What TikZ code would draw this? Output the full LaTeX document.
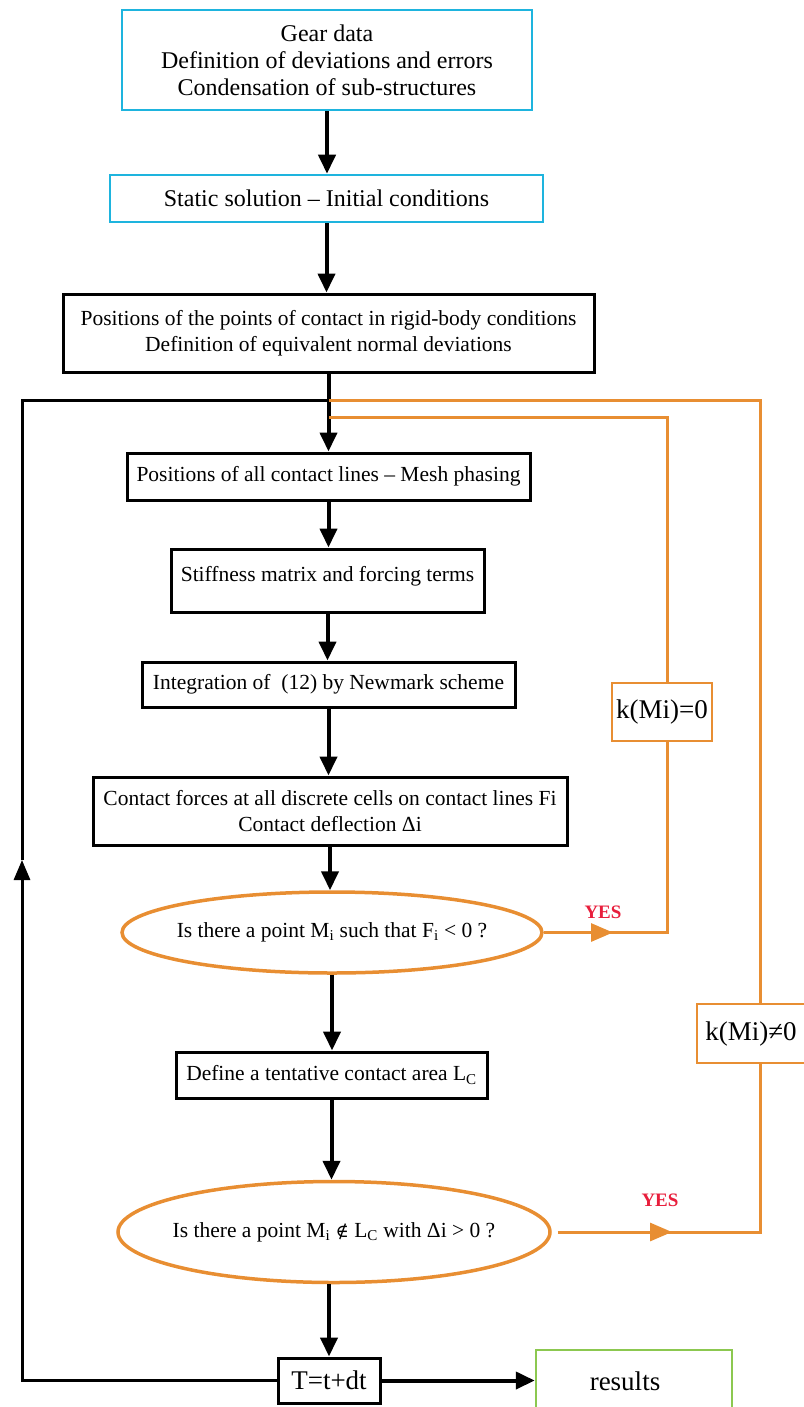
\documentclass[tikz,border=0pt]{standalone}
\usepackage{fontspec}
\setmainfont{Liberation Serif}
\newfontfamily\symserif{DejaVu Serif}
\usetikzlibrary{arrows.meta,shapes.geometric}
\definecolor{boxcyan}{RGB}{30,180,222}
\definecolor{flowor}{RGB}{232,142,50}
\definecolor{resgreen}{RGB}{140,200,80}
\definecolor{yesred}{RGB}{232,30,60}
\begin{document}
\begin{tikzpicture}[x=1pt,y=-1pt,
 cbox/.style={draw=boxcyan,line width=2.5pt,inner sep=0pt,align=center,fill=white},
 bbox/.style={draw=black,line width=3pt,inner sep=0pt,align=center,fill=white},
 obox/.style={draw=flowor,line width=2.5pt,inner sep=0pt,fill=white},
 gbox/.style={draw=resgreen,line width=2.5pt,inner sep=0pt},
 oell/.style={ellipse,draw=flowor,line width=3.5pt,inner sep=0pt},
 flow/.style={line width=4pt,-{Triangle[length=19pt,width=17pt]}},
 loopline/.style={line width=3pt},
 oline/.style={draw=flowor,line width=3pt},
 oarrow/.style={oline,-{Triangle[length=22pt,width=18pt]}},
 yes/.style={text=yesred,inner sep=0pt,font=\fontsize{19}{22}\selectfont\bfseries},
 big/.style={font=\fontsize{24}{27}\selectfont},
 mid/.style={font=\fontsize{21.5}{26}\selectfont},
 kfont/.style={font=\fontsize{27}{30}\selectfont},
]
\useasboundingbox (0,0) rectangle (803,1407);

% main boxes
\node[cbox,big,minimum width=410pt,minimum height=100pt] (gear) at (327,60)
  {Gear data\\Definition of deviations and errors\\Condensation of sub-structures};
\node[cbox,big,minimum width=433pt,minimum height=47pt] (static) at (326.5,198.5)
  {Static solution -- Initial conditions};
\node[bbox,mid,minimum width=531pt,minimum height=78pt] (rigid) at (328.5,333)
  {Positions of the points of contact in rigid-body conditions\\Definition of equivalent normal deviations};
\node[bbox,mid,minimum width=403pt,minimum height=47pt] (mesh) at (328.5,476.5)
  {Positions of all contact lines -- Mesh phasing};
\node[bbox,mid,minimum width=313pt,minimum height=63pt] (stiff) at (327.5,580.5)
  {\raisebox{14pt}{Stiffness matrix and forcing terms}};
\node[bbox,mid,minimum width=373pt,minimum height=45pt] (integ) at (328.5,684.5)
  {Integration of\ \ (12) by Newmark scheme};
\node[bbox,mid,minimum width=474pt,minimum height=68pt] (contact) at (330,811)
  {Contact forces at all discrete cells on contact lines Fi\\Contact deflection Δi};
\node[oell,mid,minimum width=420pt,minimum height=81pt] (ell1) at (332,932.5)
  {\makebox[0pt]{Is there a point M\textsubscript{i} such that F\textsubscript{i} < 0 ?}};
\node[bbox,mid,minimum width=311pt,minimum height=46pt] (tent) at (331.5,1075)
  {Define a tentative contact area L\textsubscript{C}};
\node[oell,mid,minimum width=432pt,minimum height=101pt] (ell2) at (334,1232)
  {\makebox[0pt]{Is there a point M\textsubscript{i} {\symserif\fontsize{18}{20}\selectfont ∉} L\textsubscript{C} with Δi > 0 ?}};
\node[bbox,kfont,minimum width=102pt,minimum height=45pt] (T) at (329,1380.5) {T=t+dt};
\node[gbox,kfont,minimum width=196pt,minimum height=62pt] (res) at (634,1381) {\hspace*{-18pt}results};

% main flow
\draw[flow] (gear.south) -- (gear.south |- static.north);
\draw[flow] (static.south) -- (static.south |- rigid.north);
\draw[flow] (rigid.south) -- (rigid.south |- mesh.north);
\draw[flow] (mesh.south) -- (mesh.south |- stiff.north);
\draw[flow] (stiff.south) -- (stiff.south |- integ.north);
\draw[flow] (integ.south) -- (integ.south |- contact.north);
\draw[flow] (contact.south) -- (contact.south |- ell1.north);
\draw[flow] (ell1.south) -- (ell1.south |- tent.north);
\draw[flow] (tent.south) -- (tent.south |- ell2.north);
\draw[flow] (ell2.south -| T.north) -- (T.north);
\draw[flow] (T.east) -- (res.west |- T.east);

% time loop
\coordinate (lt) at (22,400);
\coordinate (lb) at (22,1380.5);
\coordinate (lm) at (22,860);
\draw[loopline,-{Triangle[length=20pt,width=16pt]}] (T.west) -- (lb) -- (lm);
\draw[loopline] (lm) -- (lt) -- (rigid.south |- lt);

% orange return lines
\coordinate (o1) at (667,932.5);
\coordinate (o1t) at (667,417);
\coordinate (a1) at (613,932.5);
\draw[oline] (ell1.east) -- (o1) -- (o1t) -- (rigid.south |- o1t);
\draw[oarrow] (ell1.east) -- (a1);
\node[yes] (yes1) at (603,912) {YES};

\coordinate (o2) at (760,1232);
\coordinate (o2t) at (760,400);
\coordinate (a2) at (672,1232);
\draw[oline,shorten <=6pt] (ell2.east) -- (o2) -- (o2t) -- (rigid.south |- o2t);
\draw[oarrow,shorten <=6pt] (ell2.east) -- (a2);
\node[yes] (yes2) at (660,1200) {YES};

% condition boxes
\node[obox,kfont,minimum width=100pt,minimum height=58pt] (k0) at (662,712) {k(Mi)=0};
\node[obox,kfont,minimum width=108pt,minimum height=59pt] (k1) at (751,1033.5) {k(Mi)≠0};
\end{tikzpicture}
\end{document}
